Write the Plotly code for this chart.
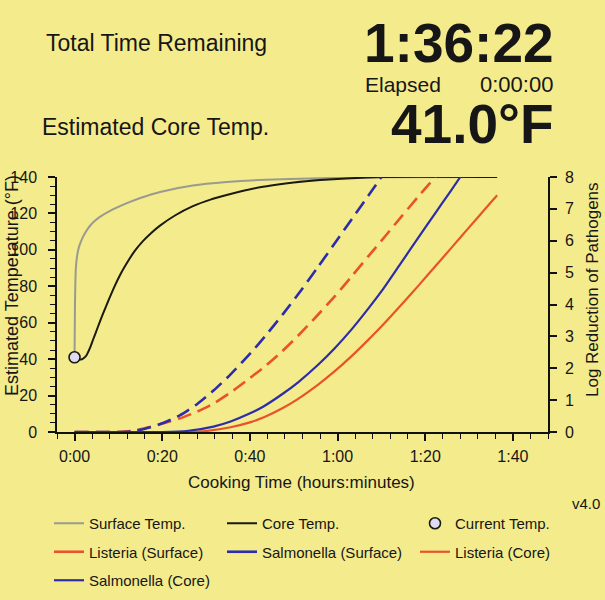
import plotly.graph_objects as go

# ---------------- data (minutes, °F, log reduction) ----------------
surface_t = [0, 0.1, 0.3, 0.6, 1.0, 1.9, 3.0, 4.2, 5.7, 8.0, 11.8, 15.0, 19.5, 27.0, 34.7, 42.0, 56.0, 70.0, 96.4]
surface_T = [41, 70, 90, 97, 101.5, 107, 111.5, 115, 118, 121.3, 125.5, 128.5, 131.8, 135.3, 137.2, 138.3, 139.3, 139.8, 140]

core_t = [0, 0.8, 1.5, 2.2, 2.7, 3.5, 4.2, 5.3, 6.5, 7.7, 8.8, 10.3, 11.8, 13.7, 15.6, 17.5, 19.5, 23, 27, 31,
          34.7, 38.5, 42.3, 46, 50, 56, 62, 70, 96.4]
core_T = [41, 40, 39.8, 40.8, 42, 46, 50.5, 57.5, 65, 72, 78.2, 85.8, 92.2, 99.3, 104.8, 109.3, 113.3, 119, 124, 127.6,
          130.1, 132.4, 134.4, 135.8, 137, 138.3, 139.2, 140, 140]

lis_surf_t = [0, 10, 14, 17.2, 20.5, 24.1, 28, 31.8, 35.6, 39.4, 43.2, 47.1, 51, 55, 59.4, 63.2, 67, 70.9, 74.7, 78.5, 82.3]
lis_surf_L = [0, 0, 0.05, 0.16, 0.28, 0.43, 0.64, 0.9, 1.24, 1.63, 2.03, 2.5, 3.02, 3.6, 4.26, 4.88, 5.51, 6.15, 6.78, 7.4, 8.0]

sal_surf_t = [0, 10, 13, 16.1, 20.2, 24.1, 28, 31.7, 35.6, 40.2, 43.5, 47.5, 51.7, 55.5, 59.2, 63.2, 67, 70.0]
sal_surf_L = [0, 0, 0.02, 0.1, 0.28, 0.53, 0.88, 1.3, 1.81, 2.48, 3.01, 3.69, 4.45, 5.17, 5.89, 6.67, 7.41, 8.0]

lis_core_t = [0, 26, 30, 35.6, 40.2, 43.2, 47.5, 51, 55.5, 59.3, 63.2, 67, 70.2, 74.6, 78.5, 82.3, 86.1, 90, 93.8, 96.4]
lis_core_L = [0, 0, 0.03, 0.15, 0.31, 0.46, 0.75, 1.04, 1.48, 1.9, 2.38, 2.89, 3.34, 4.0, 4.6, 5.2, 5.8, 6.42, 7.02, 7.43]

sal_core_t = [0, 20, 26, 31.7, 35.6, 39.8, 43.2, 47.5, 51, 55.5, 59.3, 63.2, 67, 70.2, 74.6, 78.5, 82.3, 85.4, 88.0]
sal_core_L = [0, 0, 0.04, 0.17, 0.33, 0.57, 0.81, 1.2, 1.56, 2.1, 2.62, 3.22, 3.87, 4.45, 5.33, 6.11, 6.87, 7.48, 8.0]

current_t = [0]
current_T = [41.0]

x_tick_vals = [0, 20, 40, 60, 80, 100]
x_tick_text = ["0:00", "0:20", "0:40", "1:00", "1:20", "1:40"]

header_total = "Total Time Remaining"
header_core = "Estimated Core Temp."
remaining = "1:36:22"
elapsed_label = "Elapsed"
elapsed_value = "0:00:00"
core_temp_text = "41.0°F"
version = "v4.0"

# ---------------- styles ----------------
BG = "#f4eb8c"
FONT = "Liberation Sans, Arial, Helvetica, sans-serif"
TXT = "#161616"
GRAY = "#9a9a8e"
BLACK = "#1a1a12"
RED = "#e8532b"
BLUE = "#2d2da8"

W, H = 605, 600
ML, MR, MT, MB = 57, 57, 177, 168
PW = W - ML - MR
PH = H - MT - MB


def px(x):
    return (x - ML) / PW


def py(y):
    return (H - MB - y) / PH


fig = go.Figure()

SM = 0.6
fig.add_trace(go.Scatter(x=surface_t, y=surface_T, mode="lines", name="Surface Temp.",
                         line=dict(color=GRAY, width=2, shape="spline", smoothing=SM),
                         legend="legend", legendgroup="g1", legendrank=1))
fig.add_trace(go.Scatter(x=core_t, y=core_T, mode="lines", name="Core Temp.",
                         line=dict(color=BLACK, width=2, shape="spline", smoothing=SM),
                         legend="legend2", legendgroup="g2", legendrank=1))

DASH = "14px,7px"
fig.add_trace(go.Scatter(x=lis_surf_t, y=lis_surf_L, mode="lines", yaxis="y2", showlegend=False,
                         name="Listeria (Surface)", legendgroup="g4", legend="legend",
                         line=dict(color=RED, width=2.6, dash=DASH, shape="spline", smoothing=SM)))
fig.add_trace(go.Scatter(x=sal_surf_t, y=sal_surf_L, mode="lines", yaxis="y2", showlegend=False,
                         name="Salmonella (Surface)", legendgroup="g5", legend="legend2",
                         line=dict(color=BLUE, width=2.6, dash=DASH, shape="spline", smoothing=SM)))
fig.add_trace(go.Scatter(x=lis_core_t, y=lis_core_L, mode="lines", yaxis="y2", name="Listeria (Core)",
                         line=dict(color=RED, width=2.2, shape="spline", smoothing=SM),
                         legend="legend3", legendgroup="g6", legendrank=2))
fig.add_trace(go.Scatter(x=sal_core_t, y=sal_core_L, mode="lines", yaxis="y2", name="Salmonella (Core)",
                         line=dict(color=BLUE, width=2.2, shape="spline", smoothing=SM),
                         legend="legend", legendgroup="g7", legendrank=3))

# legend entries (solid swatches) for the dashed surface series
fig.add_trace(go.Scatter(x=[None], y=[None], mode="lines", name="Listeria (Surface)", legendgroup="g4",
                         legend="legend", line=dict(color=RED, width=2.6), legendrank=2))
fig.add_trace(go.Scatter(x=[None], y=[None], mode="lines", name="Salmonella (Surface)", legendgroup="g5",
                         legend="legend2", line=dict(color=BLUE, width=2.6), legendrank=2))

fig.add_trace(go.Scatter(x=current_t, y=current_T, mode="markers", name="Current Temp.",
                         marker=dict(size=11, color="#dedcee", line=dict(color=BLACK, width=1.6)),
                         legend="legend3", legendgroup="g3", legendrank=1, cliponaxis=False))

LEG_TOP = 507
GAP = 6


def leg(xpix):
    return dict(orientation="v", x=px(xpix), y=py(LEG_TOP), xanchor="left", yanchor="top",
                font=dict(size=15, family=FONT, color=TXT), bgcolor="rgba(0,0,0,0)",
                traceorder="grouped", tracegroupgap=GAP, borderwidth=0)


fig.update_layout(
    width=W, height=H,
    margin=dict(l=ML, r=MR, t=MT, b=MB, pad=0, autoexpand=False),
    paper_bgcolor=BG, plot_bgcolor=BG,
    font=dict(family=FONT, color=TXT, size=16),
    showlegend=True,
    legend=leg(49), legend2=leg(222), legend3=leg(415),
    xaxis=dict(range=[-4, 108], tickmode="array", tickvals=x_tick_vals, ticktext=x_tick_text,
               showgrid=False, zeroline=False, showline=True, linecolor="#111", linewidth=1.5,
               ticks="outside", ticklen=7, tickwidth=1.5, tickcolor="#111",
               tickfont=dict(size=16), ticklabelstandoff=2,
               minor=dict(tickmode="linear", tick0=0, dtick=4, ticks="outside", ticklen=5,
                          tickwidth=1.3, tickcolor="#111", showgrid=False)),
    yaxis=dict(range=[0, 140], dtick=20, showgrid=False, zeroline=False, showline=True,
               linecolor="#111", linewidth=1.5, ticks="outside", ticklen=7, tickwidth=1.5,
               tickcolor="#111", tickfont=dict(size=16), ticklabelstandoff=8,
               minor=dict(tickmode="linear", tick0=0, dtick=5, ticks="outside", ticklen=5,
                          tickwidth=1.3, tickcolor="#111", showgrid=False)),
    yaxis2=dict(range=[0, 8], dtick=1, overlaying="y", side="right", showgrid=False, zeroline=False,
                showline=True, linecolor="#111", linewidth=1.5, ticks="outside", ticklen=7,
                tickwidth=1.5, tickcolor="#111", tickfont=dict(size=16), ticklabelstandoff=5),
)

ann = [
    dict(text=header_total, x=px(156), y=py(43), size=23, bold=False, xanchor="center"),
    dict(text=header_core, x=px(155), y=py(127), size=23, bold=False, xanchor="center"),
    dict(text=remaining, x=px(556), y=py(43), size=55, bold=True, xanchor="right"),
    dict(text=elapsed_label, x=px(363), y=py(85), size=21, bold=False, xanchor="left"),
    dict(text=elapsed_value, x=px(555), y=py(85), size=22, bold=False, xanchor="right"),
    dict(text=core_temp_text, x=px(556), y=py(124), size=55, bold=True, xanchor="right"),
    dict(text=version, x=px(602), y=py(503), size=15, bold=False, xanchor="right"),
    dict(text="Cooking Time (hours:minutes)", x=px(301), y=py(482), size=17, bold=False, xanchor="center"),
]
for a in ann:
    fig.add_annotation(text=("<b>%s</b>" % a["text"]) if a["bold"] else a["text"],
                       xref="paper", yref="paper", x=a["x"], y=a["y"],
                       xanchor=a["xanchor"], yanchor="middle", showarrow=False,
                       font=dict(size=a["size"], family=FONT, color=TXT))

fig.add_annotation(text="Estimated Temperature (°F)", xref="paper", yref="paper",
                   x=px(12), y=py(286), textangle=-90, showarrow=False,
                   xanchor="center", yanchor="middle", font=dict(size=18, family=FONT, color=TXT))
fig.add_annotation(text="Log Reduction of Pathogens", xref="paper", yref="paper",
                   x=px(592), y=py(290), textangle=-90, showarrow=False,
                   xanchor="center", yanchor="middle", font=dict(size=17, family=FONT, color=TXT))

fig.write_html("out.html", config={"displayModeBar": False},
               post_script="document.body.style.margin='0px';document.body.style.padding='0px';")
